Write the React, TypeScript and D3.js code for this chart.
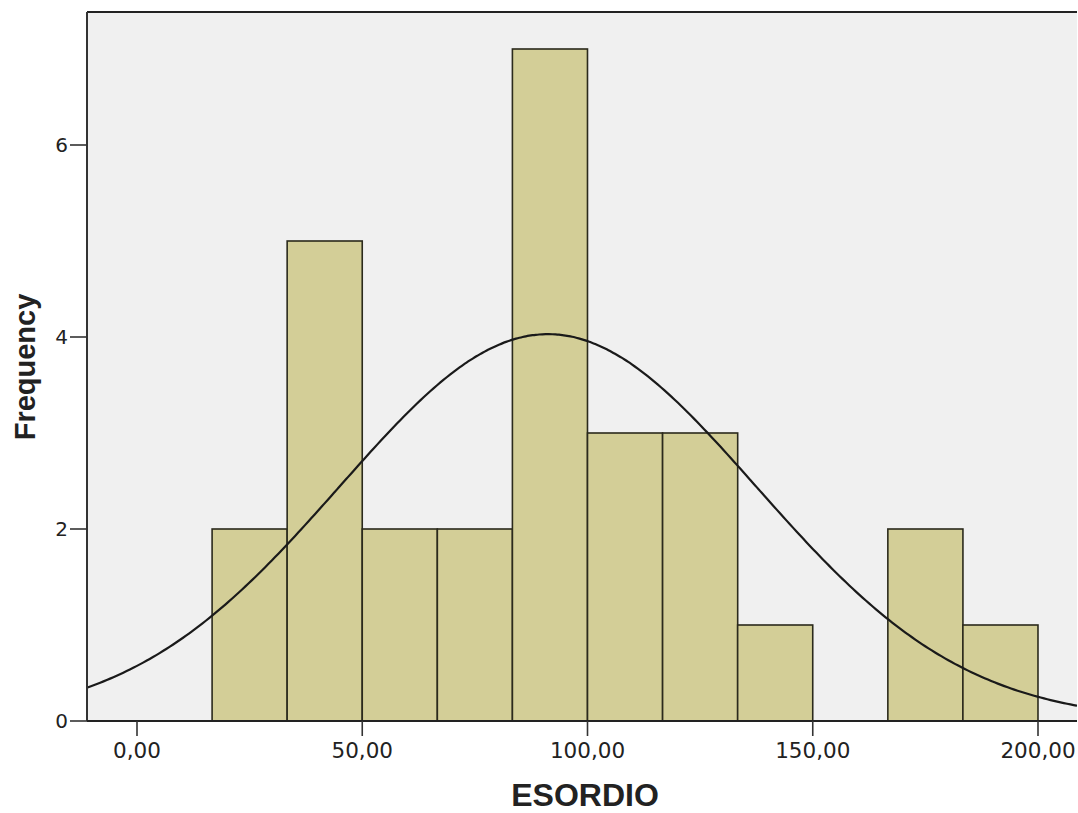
import * as d3 from "d3";
import { useEffect, useRef } from "react";

// bins of ESORDIO (lower edge), width 16.67
const binStarts: number[] = [16.67, 33.33, 50, 66.67, 83.33, 100, 116.67, 133.33, 150, 166.67, 183.33];
const counts: number[] = [2, 5, 2, 2, 7, 3, 3, 1, 0, 2, 1];
const xTicks: number[] = [0, 50, 100, 150, 200];
const yTicks: number[] = [0, 2, 4, 6];
const mean = 91.2;
const sd = 46.2;

const App = () => {
  const ref = useRef<SVGSVGElement>(null);

  useEffect(() => {
    const W = 1078, H = 813;
    const left = 87, right = 1077, top = 12, bottom = 721;
    const binW = 16.667;
    const n = d3.sum(counts);

    const svg = d3.select(ref.current);
    svg.selectAll("*").remove();

    const xs = d3.scaleLinear().domain([0, 200]).range([137, 1038]);
    const ys = d3.scaleLinear().domain([0, 6]).range([bottom, 145]);

    svg.append("rect").attr("width", W).attr("height", H).attr("fill", "#fff");

    svg.append("rect")
      .attr("x", left).attr("y", top)
      .attr("width", right - left).attr("height", bottom - top)
      .attr("fill", "#f0f0f0");

    svg.append("clipPath").attr("id", "plot")
      .append("rect")
      .attr("x", left).attr("y", top)
      .attr("width", right - left).attr("height", bottom - top);

    const data = binStarts.map((s, i) => ({ s, c: counts[i] })).filter(d => d.c > 0);

    svg.append("g").selectAll("rect").data(data).enter()
      .append("rect")
      .attr("x", d => xs(d.s))
      .attr("y", d => ys(d.c))
      .attr("width", d => xs(d.s + binW) - xs(d.s))
      .attr("height", d => ys(0) - ys(d.c))
      .attr("fill", "#d3ce97")
      .attr("stroke", "#2b2a1c")
      .attr("stroke-width", 1.6);

    // normal curve
    const xmin = xs.invert(left), xmax = xs.invert(right);
    const pts = d3.range(0, 301).map(i => {
      const v = xmin + (xmax - xmin) * i / 300;
      const dens = Math.exp(-0.5 * ((v - mean) / sd) ** 2) / (sd * Math.sqrt(2 * Math.PI));
      return [v, n * binW * dens] as [number, number];
    });
    const line = d3.line<[number, number]>().x(d => xs(d[0])).y(d => ys(d[1])).curve(d3.curveBasis);
    svg.append("path")
      .attr("d", line(pts))
      .attr("fill", "none")
      .attr("stroke", "#1a1a1a")
      .attr("stroke-width", 2.2)
      .attr("clip-path", "url(#plot)");

    // frame
    svg.append("line").attr("x1", left).attr("x2", right).attr("y1", top).attr("y2", top)
      .attr("stroke", "#222").attr("stroke-width", 2);
    svg.append("line").attr("x1", left).attr("x2", left).attr("y1", top).attr("y2", bottom)
      .attr("stroke", "#333").attr("stroke-width", 2);
    svg.append("line").attr("x1", left).attr("x2", right).attr("y1", bottom).attr("y2", bottom)
      .attr("stroke", "#222").attr("stroke-width", 2);

    const tickFont = "'DejaVu Sans', Verdana, sans-serif";
    const titleFont = "'Liberation Sans', Arial, sans-serif";

    // y axis
    const yg = svg.append("g");
    yTicks.forEach(t => {
      yg.append("line").attr("x1", 70).attr("x2", left).attr("y1", ys(t)).attr("y2", ys(t))
        .attr("stroke", "#333").attr("stroke-width", 1.6);
      yg.append("text").attr("x", 68).attr("y", ys(t)).attr("dy", "0.36em")
        .attr("text-anchor", "end").attr("font-family", tickFont).attr("font-size", 20)
        .attr("fill", "#222").text(String(t));
    });

    // x axis
    const fmt = (v: number) => v.toFixed(2).replace(".", ",");
    const xg = svg.append("g");
    xTicks.forEach(t => {
      xg.append("line").attr("x1", xs(t)).attr("x2", xs(t)).attr("y1", bottom).attr("y2", 736)
        .attr("stroke", "#333").attr("stroke-width", 1.6);
      xg.append("text").attr("x", xs(t)).attr("y", 758)
        .attr("text-anchor", "middle").attr("font-family", tickFont).attr("font-size", 21.5)
        .attr("fill", "#222").text(fmt(t));
    });

    svg.append("text").attr("x", 585).attr("y", 806)
      .attr("text-anchor", "middle").attr("font-family", titleFont).attr("font-weight", "bold")
      .attr("font-size", 32).attr("fill", "#222").text("ESORDIO");

    svg.append("text").attr("transform", "translate(35,367) rotate(-90)")
      .attr("text-anchor", "middle").attr("font-family", titleFont).attr("font-weight", "bold")
      .attr("font-size", 29).attr("fill", "#222").text("Frequency");
  }, []);

  return (
    <svg ref={ref} width={1078} height={813}
      style={{ position: "absolute", left: 0, top: 0, display: "block" }} />
  );
};

export default App;
